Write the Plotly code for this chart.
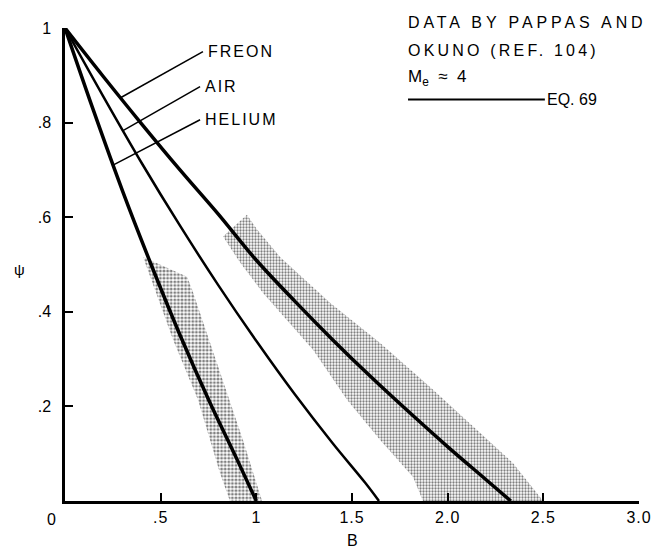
import plotly.graph_objects as go

# ---- data ----
helium_B   = [0.0, 0.152, 0.303, 0.450, 0.601, 0.753, 0.899, 1.0]
helium_psi = [1.0, 0.822, 0.653, 0.500, 0.351, 0.212, 0.088, 0.0]

air_B   = [0.0, 0.199, 0.403, 0.601, 0.800, 1.004, 1.202, 1.401, 1.568, 1.641]
air_psi = [1.0, 0.856, 0.713, 0.582, 0.457, 0.336, 0.225, 0.121, 0.039, 0.0]

freon_B   = [0.0, 0.199, 0.397, 0.601, 0.800, 0.998, 1.202, 1.401, 1.600, 1.798, 2.002, 2.201, 2.33]
freon_psi = [1.0, 0.898, 0.799, 0.700, 0.607, 0.510, 0.422, 0.340, 0.262, 0.188, 0.114, 0.045, 0.0]

# data scatter bands (Pappas & Okuno)
helium_band_B   = [0.408, 0.638, 0.664, 0.810, 0.930, 1.03, 0.862, 0.81, 0.695, 0.565, 0.408]
helium_band_psi = [0.516, 0.474, 0.447, 0.271, 0.129, 0.0, 0.0, 0.059, 0.214, 0.341, 0.516]

freon_band_B   = [0.951, 0.826, 0.915, 1.035, 1.296, 1.474, 1.647, 1.819, 1.871, 2.499,
                  2.342, 2.169, 1.908, 1.647, 1.385, 1.124, 1.004, 0.951]
freon_band_psi = [0.605, 0.559, 0.504, 0.440, 0.320, 0.214, 0.129, 0.051, 0.0, 0.0,
                  0.080, 0.144, 0.241, 0.334, 0.419, 0.516, 0.574, 0.605]

x_ticks = [0.5, 1.0, 1.5, 2.0, 2.5, 3.0]
x_tick_text = [".5", "1", "1.5", "2.0", "2.5", "3.0"]
y_ticks = [0.2, 0.4, 0.6, 0.8, 1.0]
y_tick_text = [".2", ".4", ".6", ".8", "1"]

# label leaders: (point on curve) -> (label end)
labels = ["FREON", "AIR", "HELIUM"]
leader_from = [(0.288, 0.852), (0.303, 0.783), (0.251, 0.710)]
leader_to = [(0.721, 0.950), (0.706, 0.876), (0.706, 0.806)]

FONT = "Liberation Sans, Arial, sans-serif"


def sp(t, ls=2):
    return f'<span style="letter-spacing:{ls}px">{t}</span>'


fig = go.Figure()

fig.add_trace(go.Scatter(
    x=freon_band_B, y=freon_band_psi, mode="lines", fill="toself",
    line=dict(width=0), fillcolor="rgba(255,255,255,0)",
    fillpattern=dict(shape=".", fgcolor="black", bgcolor="rgba(255,255,255,0)",
                     size=3, solidity=0.45),
    hoverinfo="skip", showlegend=False))

fig.add_trace(go.Scatter(
    x=helium_band_B, y=helium_band_psi, mode="lines", fill="toself",
    line=dict(width=0), fillcolor="rgba(255,255,255,0)",
    fillpattern=dict(shape=".", fgcolor="black", bgcolor="rgba(255,255,255,0)",
                     size=3.6, solidity=0.5),
    hoverinfo="skip", showlegend=False))

for xs, ys, w in [(helium_B, helium_psi, 3.5), (air_B, air_psi, 2.5), (freon_B, freon_psi, 3.5)]:
    fig.add_trace(go.Scatter(x=xs, y=ys, mode="lines",
                             line=dict(color="black", width=w, shape="spline", smoothing=1),
                             hoverinfo="skip", showlegend=False))

for lab, p0, p1 in zip(labels, leader_from, leader_to):
    fig.add_shape(type="line", x0=p0[0], y0=p0[1], x1=p1[0], y1=p1[1],
                  xref="x", yref="y", line=dict(color="black", width=1.5))
    fig.add_annotation(x=p1[0], y=p1[1], xref="x", yref="y", text=sp(lab),
                       showarrow=False, xanchor="left", yanchor="middle", xshift=3,
                       font=dict(family=FONT, size=16, color="black"))

# key block (top right)
KX = 0.594
fig.add_annotation(x=KX, y=1.0116, xref="paper", yref="paper",
                   text=sp("DATA BY PAPPAS AND", 3.9), showarrow=False,
                   xanchor="left", yanchor="middle",
                   font=dict(family=FONT, size=16, color="black"))
fig.add_annotation(x=KX, y=0.952, xref="paper", yref="paper",
                   text=sp("OKUNO (REF. 104)", 3.2), showarrow=False,
                   xanchor="left", yanchor="middle",
                   font=dict(family=FONT, size=16, color="black"))
fig.add_annotation(x=KX, y=0.895, xref="paper", yref="paper",
                   text="M<sub>e</sub>  ≈  4", showarrow=False,
                   xanchor="left", yanchor="middle",
                   font=dict(family=FONT, size=17, color="black"))
fig.add_shape(type="line", x0=0.5976, x1=0.836, y0=0.8487, y1=0.8487,
              xref="paper", yref="paper", line=dict(color="black", width=2))
fig.add_annotation(x=0.836, y=0.8487, xref="paper", yref="paper",
                   text="EQ. 69", showarrow=False,
                   xanchor="left", yanchor="middle",
                   font=dict(family=FONT, size=16, color="black"))

# origin label, axis titles
fig.add_annotation(x=0, y=0, xref="x", yref="y", text="0", showarrow=False,
                   xanchor="center", yanchor="top", xshift=-14, yshift=-8,
                   font=dict(family=FONT, size=16, color="black"))
fig.add_annotation(x=1.5, y=-0.0825, xref="x", yref="paper", text="B", showarrow=False,
                   xanchor="center", yanchor="middle",
                   font=dict(family=FONT, size=16, color="black"))
fig.add_annotation(x=-0.08, y=0.49, xref="paper", yref="y", text="ψ", showarrow=False,
                   xanchor="center", yanchor="middle",
                   font=dict(family=FONT, size=15, color="black"))

fig.update_layout(
    width=652, height=549, autosize=False,
    margin=dict(l=65, r=13, t=28, b=48),
    plot_bgcolor="white", paper_bgcolor="white",
    font=dict(family=FONT, size=16, color="black"),
    xaxis=dict(range=[0, 3], tickvals=x_ticks, ticktext=[sp(t, 1) for t in x_tick_text],
               showline=True, linecolor="black", linewidth=2.5, mirror=False,
               ticks="inside", ticklen=8, tickwidth=2, tickcolor="black",
               ticklabelstandoff=0, automargin=False,
               showgrid=False, zeroline=False),
    yaxis=dict(range=[0, 1], tickvals=y_ticks, ticktext=y_tick_text,
               showline=True, linecolor="black", linewidth=2.5, mirror=False,
               ticks="inside", ticklen=8, tickwidth=2, tickcolor="black",
               ticklabelstandoff=8, automargin=False,
               showgrid=False, zeroline=False),
)

fig.write_html("out.html")
